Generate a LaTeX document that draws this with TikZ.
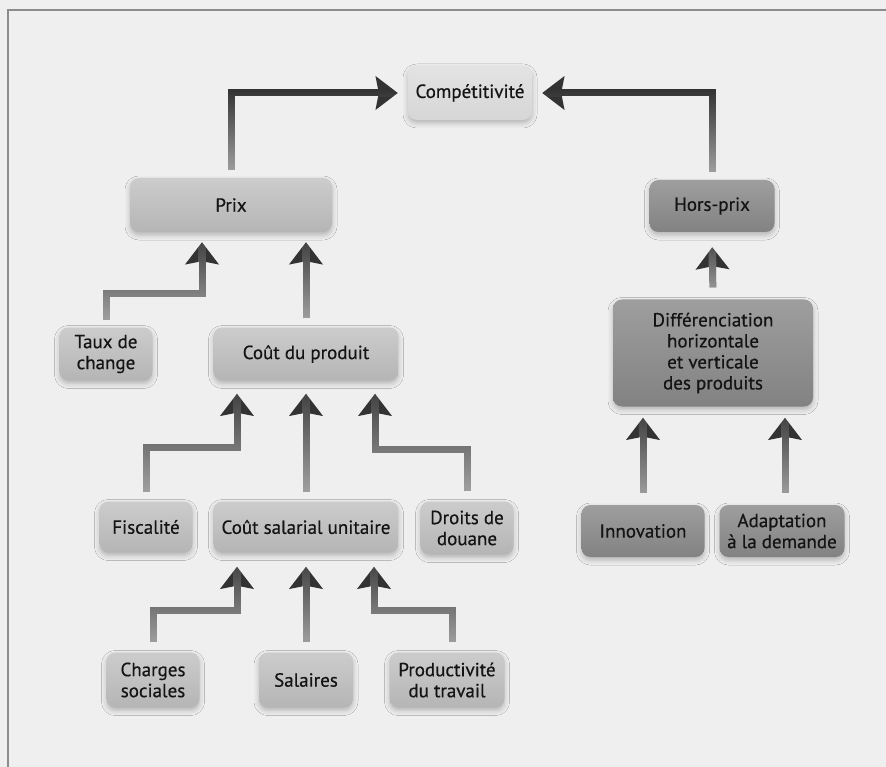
\documentclass[tikz,border=0pt]{standalone}
\usepackage{fontspec}
\setmainfont{PT Sans}[FakeBold=0.5]
\usetikzlibrary{arrows.meta,shadows.blur,fadings,calc}
\definecolor{bg}{HTML}{EFEFEF}
\definecolor{frame}{HTML}{8C8C8C}
\definecolor{connc}{HTML}{333333}
\tikzfading[name=whiten, top color=transparent!100, middle color=transparent!88, bottom color=transparent!35]
\begin{document}
\begin{tikzpicture}[x=1pt,y=-1pt,
  box/.style={rounded corners=9pt, align=center, inner sep=0pt,
    font=\fontsize{19}{21}\selectfont, text=black!92,
    blur shadow={shadow xshift=0pt, shadow yshift=-3pt, shadow opacity=25, shadow blur radius=5pt}},
  palebox/.style={box, top color=white!89!black, bottom color=white!84!black},
  lightbox/.style={box, top color=white!80!black, bottom color=white!71!black},
  darkbox/.style={box, top color=white!62!black, bottom color=white!51!black},
  conn/.style={line width=7pt, draw=connc, line join=miter,
    -{Stealth[length=22pt,width=33pt,inset=3pt]},
    postaction={draw=bg, -, line width=7.6pt, path fading=whiten}}
]
\useasboundingbox (0,0) rectangle (886,767);
\fill[bg] (0,0) rectangle (886,767);
\draw[frame, line width=1.2pt] (886,10) -- (8,10) -- (8,767);

% nodes
\node[palebox, minimum width=124pt, minimum height=54pt] (comp) at (470,93) {Compétitivité};
\node[lightbox, minimum width=202pt, minimum height=54pt] (prix) at (231,205) {Prix};
\node[darkbox, minimum width=125pt, minimum height=52pt] (hp) at (712,206) {Hors-prix};
\node[lightbox, minimum width=93pt, minimum height=53pt] (taux) at (106,354) {Taux de\\change};
\node[lightbox, minimum width=185pt, minimum height=53pt] (cprod) at (306,354) {Coût du produit};
\node[lightbox, minimum width=93pt, minimum height=51pt] (fisc) at (146,527) {Fiscalité};
\node[lightbox, minimum width=185pt, minimum height=51pt] (csu) at (306,527) {Coût salarial unitaire};
\node[lightbox, minimum width=93pt, minimum height=53pt] (droits) at (467,528) {Droits de\\douane};
\node[lightbox, minimum width=93pt, minimum height=55pt] (charges) at (153,680) {Charges\\sociales};
\node[lightbox, minimum width=94pt, minimum height=55pt] (sal) at (306,680) {Salaires};
\node[lightbox, minimum width=115pt, minimum height=55pt] (prod) at (447,680) {Productivité\\du travail};
\node[darkbox, minimum width=200pt, minimum height=107pt] (diff) at (713,353) {Différenciation\\horizontale\\et verticale\\des produits};
\node[darkbox, minimum width=123pt, minimum height=52pt] (innov) at (643,531) {Innovation};
\node[darkbox, minimum width=125pt, minimum height=52pt] (adapt) at (782,531) {Adaptation\\à la demande};

% connectors
\draw[conn, shorten <=8pt, shorten >=10pt] (prix.north) |- (comp.west);
\draw[conn, shorten <=8pt, shorten >=10pt] (hp.north) |- (comp.east);
\draw[conn, shorten <=7pt, shorten >=10pt] (taux.north) -- ++(0,-34) -| ([xshift=-29pt]prix.south);
\draw[conn, shorten <=9pt, shorten >=10pt] (cprod.north) -- (cprod.north |- prix.south);
\draw[conn, shorten <=9pt, shorten >=13pt] (fisc.north) -- ++(0,-54) -| ([xshift=-69pt]cprod.south);
\draw[conn, shorten <=9pt, shorten >=13pt] (csu.north) -- (cprod.south);
\draw[conn, shorten <=10pt, shorten >=13pt] (droits.north) -- ++(0,-52) -| ([xshift=69pt]cprod.south);
\draw[conn, shorten <=10pt, shorten >=14pt] (charges.north) -- ++(0,-42) -| ([xshift=-69pt]csu.south);
\draw[conn, shorten <=10pt, shorten >=14pt] (sal.north) -- (csu.south);
\draw[conn, shorten <=10pt, shorten >=14pt] ([xshift=5pt]prod.north) -- ++(0,-42) -| ([xshift=68pt]csu.south);
\draw[conn, shorten <=12pt, shorten >=15pt] (diff.north) -- (hp.south);
\draw[conn, shorten <=12pt, shorten >=11pt] (innov.north) -- (innov.north |- diff.south);
\draw[conn, shorten <=12pt, shorten >=11pt] ([xshift=3pt]adapt.north) -- ([xshift=3pt]adapt.north |- diff.south);
\end{tikzpicture}
\end{document}
